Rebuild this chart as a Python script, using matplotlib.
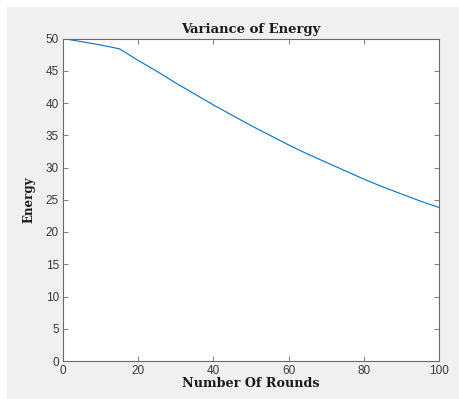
import numpy as np
import matplotlib
matplotlib.use('Agg')
import matplotlib.pyplot as plt
from matplotlib.patches import Rectangle

# data
rounds = [0, 5, 10, 15, 20, 25, 30, 35, 40, 45, 50, 55, 60, 65, 70, 75, 80, 85, 90, 95, 100]
energy = [50.0, 49.5, 49.0, 48.4, 46.6, 44.9, 43.1, 41.4, 39.7, 38.1, 36.5, 35.0, 33.5,
          32.1, 30.8, 29.5, 28.2, 27.0, 25.9, 24.8, 23.8]
xticks = [0, 20, 40, 60, 80, 100]
yticks = [0, 5, 10, 15, 20, 25, 30, 35, 40, 45, 50]

fig = plt.figure(figsize=(4.6, 3.99), dpi=100)
fig.patch.set_facecolor('white')
# grey matlab-like window background, white strip on top/left
fig.patches.append(Rectangle((7 / 460, 0), 1, 1 - 7 / 399, transform=fig.transFigure,
                             facecolor='#f0f0f0', edgecolor='none', zorder=-10))

ax = fig.add_axes([63 / 460, 38 / 399, 376 / 460, 322.5 / 399])
ax.set_facecolor('white')
ax.plot(rounds, energy, color='#0072BD', lw=0.8)

ax.set_xlim(0, 100)
ax.set_ylim(0, 50)
ax.set_xticks(xticks)
ax.set_yticks(yticks)

for s in ax.spines.values():
    s.set_color('#6a6a6a')
    s.set_linewidth(0.8)
ax.tick_params(direction='in', top=True, right=True, length=3.5, width=0.6,
               color='#6a6a6a', labelcolor='#3a3a3a', labelsize=8.5, pad=3)
for lbl in ax.get_xticklabels() + ax.get_yticklabels():
    lbl.set_family('Liberation Sans')

serif = ['DejaVu Serif']
ax.set_title('Variance of Energy', family=serif, fontweight='bold', fontsize=9.5,
             color='#1a1a1a', pad=4)
ax.set_xlabel('Number Of Rounds', family=serif, fontweight='bold', fontsize=9.2,
              color='#1a1a1a', labelpad=0)
ax.set_ylabel('Energy', family=serif, fontweight='bold', fontsize=8.5,
              color='#1a1a1a', labelpad=7)

fig.savefig('out.png', dpi=100)
